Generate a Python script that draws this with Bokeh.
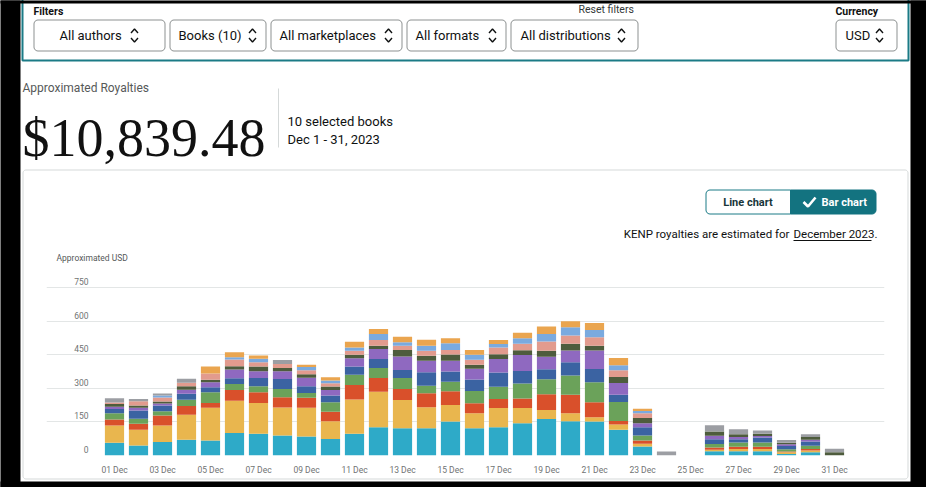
import math
from bokeh.plotting import figure
from bokeh.models import Range1d, LinearAxis, FixedTicker, ColumnDataSource
from bokeh.core.properties import value
from bokeh.embed import file_html
from bokeh.resources import INLINE

# ---------------- data ----------------
days = list(range(1, 32))
tick_days = list(range(1, 32, 2))
tick_labels = ["01 Dec", "03 Dec", "05 Dec", "07 Dec", "09 Dec", "11 Dec", "13 Dec", "15 Dec",
               "17 Dec", "19 Dec", "21 Dec", "23 Dec", "25 Dec", "27 Dec", "29 Dec", "31 Dec"]
y_ticks = [0, 150, 300, 450, 600, 750]

book_1 = [57, 45, 60, 70, 67, 101, 97, 89, 85, 74, 97, 126, 122, 122, 152, 122, 126, 144, 163, 153,
          152, 115, 40, 0, 0, 19, 19, 19, 7, 15, 0]
book_2 = [77, 70, 74, 112, 146, 144, 138, 126, 128, 79, 153, 159, 126, 94, 74, 67, 86, 68, 40, 36,
          19, 24, 12, 0, 0, 7, 10, 10, 7, 7, 0]
book_3 = [27, 27, 45, 39, 22, 48, 48, 45, 45, 43, 65, 61, 49, 62, 61, 45, 40, 43, 71, 83,
          67, 15, 15, 0, 0, 10, 10, 10, 4, 7, 0]
book_4 = [28, 22, 19, 28, 48, 27, 27, 37, 21, 42, 46, 45, 49, 34, 43, 54, 55, 67, 67, 85,
          89, 85, 22, 0, 0, 15, 19, 19, 10, 15, 0]
book_5 = [19, 37, 25, 27, 22, 25, 36, 45, 30, 30, 37, 40, 36, 60, 45, 52, 64, 56, 45, 60,
          60, 33, 37, 0, 0, 22, 15, 22, 15, 19, 0]
book_6 = [10, 12, 9, 18, 22, 39, 30, 34, 39, 25, 37, 45, 60, 52, 49, 48, 60, 71, 55, 52,
          82, 52, 18, 0, 0, 15, 10, 7, 7, 7, 0]
book_7 = [12, 10, 9, 16, 12, 15, 22, 15, 15, 15, 15, 15, 30, 22, 27, 18, 22, 21, 27, 30,
          22, 27, 24, 0, 0, 19, 12, 10, 7, 13, 15]
book_8 = [7, 20, 18, 15, 28, 30, 19, 18, 18, 15, 18, 25, 19, 22, 21, 22, 30, 30, 42, 37,
          37, 30, 21, 0, 0, 0, 0, 0, 0, 0, 0]
book_9 = [0, 0, 9, 0, 0, 10, 15, 0, 15, 12, 15, 27, 15, 22, 30, 22, 15, 24, 33, 37,
          33, 22, 10, 0, 0, 0, 0, 0, 0, 0, 0]
book_10 = [0, 0, 0, 0, 31, 22, 15, 0, 10, 15, 25, 22, 25, 27, 22, 22, 18, 25, 34, 27,
           31, 33, 10, 0, 0, 0, 0, 0, 0, 0, 0]
other = [19, 10, 9, 18, 0, 0, 0, 18, 0, 0, 0, 0, 0, 0, 0, 0, 0, 0, 0, 0,
         0, 0, 0, 18, 0, 28, 22, 15, 12, 12, 15]

series_names = ["book_1", "book_2", "book_3", "book_4", "book_5", "book_6", "book_7",
                "book_8", "book_9", "book_10", "other"]
series_values = [book_1, book_2, book_3, book_4, book_5, book_6, book_7, book_8, book_9,
                 book_10, other]
series_colors = ["#2eaac8", "#e9b64e", "#d9502b", "#6ba25a", "#3b63a2", "#8f69c0", "#4e5c3d",
                 "#e29b8e", "#7aaadf", "#eaa54f", "#9c9ea3"]

FONT = value("Roboto")
INK = "#0f1111"
TEAL = "#1b7b86"
CARD = "#d5d9d9"

# ---------------- figure: frame = chart plotting area ----------------
FL, FR, FT, FB = 46, 884, 276, 455          # frame edges in page pixels
p = figure(width=926, height=487, x_range=Range1d(-1.833, 33.083), y_range=Range1d(0, 800),
           toolbar_location=None, output_backend="svg", y_axis_location=None,
           min_border_left=FL, min_border_right=926 - FR, min_border_top=FT,
           min_border_bottom=487 - FB, outline_line_color=None)

# pixel ranges for the page decoration around the chart
p.extra_x_ranges = {"px": Range1d(FL, FR)}
p.extra_y_ranges = {"px": Range1d(FB, FT), "lab": Range1d(-26.8, 773.2)}
kw = dict(x_range_name="px", y_range_name="px", level="overlay")

src = ColumnDataSource(dict(day=days, **{n: v for n, v in zip(series_names, series_values)}))
p.vbar_stack(series_names, x="day", width=0.8, color=series_colors, line_color=None,
             source=src)

p.xgrid.grid_line_color = None
p.ygrid.ticker = FixedTicker(ticks=y_ticks)
p.ygrid.grid_line_color = "#e3e6e6"
p.ygrid.grid_line_width = 1

p.xaxis.ticker = FixedTicker(ticks=tick_days)
p.xaxis.major_label_overrides = dict(zip(tick_days, tick_labels))
p.xaxis.axis_line_color = None
p.xaxis.major_tick_line_color = None
p.xaxis.minor_tick_line_color = None
p.xaxis.major_tick_out = 0
p.xaxis.major_tick_in = 0
p.xaxis.major_label_standoff = 9
p.xaxis.major_label_text_font = "Roboto"
p.xaxis.major_label_text_font_size = "8.5px"
p.xaxis.major_label_text_color = "#6f7373"

yax = LinearAxis(y_range_name="lab", ticker=FixedTicker(ticks=y_ticks),
                 axis_line_color=None, major_tick_line_color=None,
                 minor_tick_line_color=None, major_tick_out=0, major_tick_in=0,
                 major_label_standoff=-42, major_label_text_font="Roboto",
                 major_label_text_font_size="8.5px", major_label_text_color="#6f7373")
p.add_layout(yax, "left")


def rrect(l, r, t, b, rad, corners=(1, 1, 1, 1)):
    """rounded rectangle outline in page pixels (y down); corners TL, TR, BR, BL"""
    specs = [((l + rad, t + rad), 180, corners[0], (l, t)),
             ((r - rad, t + rad), 270, corners[1], (r, t)),
             ((r - rad, b - rad), 0, corners[2], (r, b)),
             ((l + rad, b - rad), 90, corners[3], (l, b))]
    xs, ys = [], []
    for (cx, cy), a0, rounded, (px, py) in specs:
        if rounded:
            for k in range(7):
                a = math.radians(a0 + 15 * k)
                xs.append(cx + rad * math.cos(a))
                ys.append(cy + rad * math.sin(a))
        else:
            xs.append(px)
            ys.append(py)
    return xs, ys


# card
cx_, cy_ = rrect(22.5, 907.5, 169.5, 478.5, 3)
p.patch(cx_, cy_, fill_alpha=0, line_color=CARD, line_width=1, **kw)

# filter panel (teal outline, top is off screen)
p.multi_line(xs=[[22, 22, 908, 908]], ys=[[-5, 60, 60, -5]], line_color=TEAL, line_width=2,
             **kw)

# dropdown boxes
boxes = [(33.5, 164.5), (169.5, 265.5), (270.5, 401.5), (406.5, 505.5), (510.5, 637.5),
         (835.5, 896.5)]
for l, r in boxes:
    bx, by = rrect(l, r, 19.5, 50.5, 4)
    p.patch(bx, by, fill_color="white", line_color="#8d9191", line_width=1, **kw)
p.text(x=[59, 178, 279, 415, 520, 845], y=[35] * 6,
       text=["All authors", "Books (10)", "All marketplaces", "All formats",
             "All distributions", "USD"],
       text_font=FONT, text_font_size=value("13px"), text_color=INK,
       text_baseline="middle", text_align="left", **kw)
chev_x = [134, 252, 388, 492, 621, 879]
xs, ys = [], []
for c in chev_x:
    xs += [[c - 3.5, c, c + 3.5], [c - 3.5, c, c + 3.5]]
    ys += [[32.5, 28.5, 32.5], [37.5, 41.5, 37.5]]
p.multi_line(xs=xs, ys=ys, line_color=INK, line_width=1.4, **kw)
p.text(x=[33, 835], y=[11, 11], text=["Filters", "Currency"], text_font=FONT,
       text_font_size=value("10.5px"), text_font_style="bold", text_color=INK,
       text_baseline="middle", **kw)
p.text(x=[578], y=[9], text=["Reset filters"], text_font=FONT,
       text_font_size=value("10.5px"), text_color="#333838", text_baseline="middle", **kw)

# headline
p.text(x=[22], y=[87], text=["Approximated Royalties"], text_font=FONT,
       text_font_size=value("12px"), text_color="#565959", text_baseline="middle", **kw)
p.text(x=[22], y=[137], text=["$10,839.48"], text_font=value("Liberation Serif"),
       text_font_size=value("54px"), text_color="#111111", text_baseline="alphabetic", **kw)
p.segment(x0=[278], y0=[88], x1=[278], y1=[147], line_color=CARD, line_width=1, **kw)
p.text(x=[287, 287], y=[121, 139], text=["10 selected books", "Dec 1 - 31, 2023"],
       text_font=FONT, text_font_size=value("13px"), text_color=INK,
       text_baseline="middle", **kw)

# toggle buttons
lx, ly = rrect(705.5, 790, 189.5, 213.5, 4, corners=(1, 0, 0, 1))
p.patch(lx, ly, fill_color="white", line_color=TEAL, line_width=1, **kw)
rx, ry = rrect(790, 875.5, 189.5, 213.5, 4, corners=(0, 1, 1, 0))
p.patch(rx, ry, fill_color="#137380", line_color="#137380", line_width=1, **kw)
p.text(x=[747.5], y=[202], text=["Line chart"], text_font=FONT,
       text_font_size=value("11px"), text_font_style="bold", text_color="#17363a",
       text_baseline="middle", text_align="center", **kw)
p.text(x=[821], y=[202], text=["Bar chart"], text_font=FONT,
       text_font_size=value("11px"), text_font_style="bold", text_color="white",
       text_baseline="middle", text_align="left", **kw)
p.line(x=[803, 807.5, 815], y=[201.5, 206, 197], line_color="white", line_width=2.6, **kw)

p.text(x=[789], y=[233], text=["KENP royalties are estimated for"], text_font=FONT,
       text_font_size=value("11.5px"), text_color=INK, text_baseline="middle",
       text_align="right", **kw)
p.text(x=[793], y=[233], text=["December 2023."], text_font=FONT,
       text_font_size=value("11.5px"), text_color=INK, text_baseline="middle",
       text_align="left", **kw)
p.segment(x0=[793], y0=[240], x1=[871], y1=[240], line_color=INK, line_width=1, **kw)

p.text(x=[56], y=[257], text=["Approximated USD"], text_font=FONT,
       text_font_size=value("8.5px"), text_color="#565959", text_baseline="middle", **kw)

# black screen edges
p.quad(left=[0, 910, 0, 0], right=[20, 926, 926, 926], top=[0, 0, 0, 481],
       bottom=[487, 487, 3, 487], fill_color="black", line_color=None, **kw)

open("out.html", "w").write(file_html(p, INLINE))
